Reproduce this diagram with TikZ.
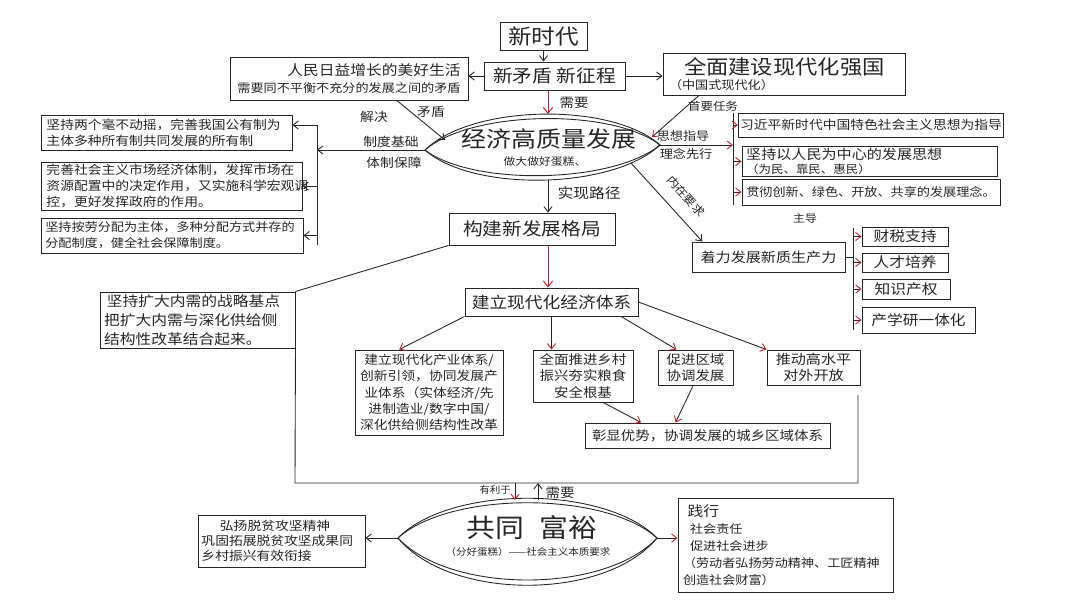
\documentclass[tikz,border=0pt]{standalone}
\usepackage{fontspec}
\setmainfont{Noto Sans CJK SC}[FakeStretch=1.12]
\usetikzlibrary{arrows.meta,calc}
\definecolor{ink}{HTML}{262626}
\definecolor{hred}{HTML}{C41E2A}
\newcommand\fz[2]{\fontsize{#1}{#2}\selectfont}
\tikzset{
  box/.style={draw=ink, line width=0.8pt, inner sep=1.5pt, align=center, text=ink},
  sz/.style 2 args={minimum width=#1*0.03cm, minimum height=#2*0.03cm},
  lbl/.style={inner sep=0pt, text=ink},
  arr/.style={draw=ink, line width=0.75pt, -{Straight Barb[length=4.5pt,width=7pt]}},
  rarr/.style={draw=ink, line width=0.75pt, -{Straight Barb[length=4.5pt,width=7pt,color=hred]}},
  rrarr/.style={draw=hred, line width=0.85pt, -{Straight Barb[length=5pt,width=8pt]}},
  lens/.style={draw=ink, line width=0.75pt},
  wire/.style={draw=ink, line width=0.75pt},
}
\begin{document}
\begin{tikzpicture}[x=0.03cm,y=-0.03cm,color=ink]
\useasboundingbox (0,0) rectangle (1080,613);
\fill[white] (0,0) rectangle (1080,613);

% ---------- top row
\node[box,sz={87}{28},font=\fz{18}{20}] (nt) at (543.5,36) {新时代};
\node[box,sz={141}{28},font=\fz{15}{17}] (nm) at (554.5,76) {新矛盾\ 新征程};
\node[box,sz={238}{43},align=right,font=\fz{10}{15}] (lt) at (349,78.5)
  {{\fz{12}{15}人民日益增长的美好生活}\\需要同不平衡不充分的发展之间的矛盾};
\node[box,sz={242}{42},align=left,text width=6.9cm,font=\fz{10}{13}] (rt) at (784,74)
  {\hspace*{0.45cm}{\fz{17}{19}全面建设现代化强国}\\（中国式现代化）};

% ---------- lens: economy
\coordinate (e1L) at (425,150);
\coordinate (e1R) at (660,145);
\coordinate (e1T) at (548,114);
\coordinate (e1B) at (548,180);
\draw[lens] (e1L) .. controls (472,104) and (612,102) .. (e1R) .. controls (612,190) and (472,192) .. (e1L);
\draw[lens] (e1L) .. controls (472,110) and (612,108) .. (e1R) .. controls (612,184) and (472,186) .. (e1L);
\node[lbl,font=\fz{19}{21}] (e1) at (549,139) {经济高质量发展};
\node[lbl,font=\fz{9}{10}] (e1s) at (545,162) {做大做好蛋糕、};

\draw[arr] (nt.south) -- (nt.south |- nm.north);
\draw[arr] (nm.west) -- (lt.east |- nm.west);
\draw[arr] (nm.east) -- (rt.west |- nm.east);
\draw[rrarr] (nm.south -| e1T) -- (e1T);
\node[lbl,font=\fz{11}{12}] (xy1) at (574,103) {需要};

\coordinate (jaE) at (445,140);
\draw[arr] ($(lt.south west)!0.7!(lt.south east)$) -- (jaE);
\node[lbl,font=\fz{10.5}{12}] (jj) at (374,117) {解决};
\node[lbl,font=\fz{10.5}{12}] (md) at (431,112) {矛盾};

\coordinate (syE) at (652,137);
\draw[rarr] ($(rt.south west)!0.15!(rt.south east)$) -- (syE);
\node[lbl,font=\fz{9.5}{11}] (sy) at (713,106) {首要任务};

% ---------- right group
\coordinate (rbT) at (733,113);
\coordinate (rbB) at (733,205);
\draw[wire] (rbT) -- (rbB);
\draw[rarr] (e1R) -- (rbT |- e1R);
\node[lbl,font=\fz{10}{11}] (sx) at (683,136) {思想指导};
\node[lbl,font=\fz{10}{11}] (lx) at (686,154) {理念先行};
\node[box,sz={258}{24},font=\fz{10.5}{12}] (ra) at (871,125) {习近平新时代中国特色社会主义思想为指导};
\node[box,sz={255}{29},align=left,text width=7.4cm,font=\fz{9.5}{11.5}] (rb) at (869.5,161.5)
  {{\fz{11.5}{12}坚持以人民为中心的发展思想}\\（为民、靠民、惠民）};
\node[box,sz={258}{26},font=\fz{10}{12}] (rc) at (871,192) {贯彻创新、绿色、开放、共享的发展理念。};
\draw[rarr] (rbT |- ra.west) -- (ra.west);
\draw[rarr] (rbT |- rb.west) -- (rb.west);
\draw[rarr] (rbT |- rc.west) -- (rc.west);
\node[lbl,font=\fz{9}{10}] (zdao) at (805,218) {主导};

% ---------- new productive forces
\node[box,sz={153}{30},font=\fz{11.5}{13}] (zl) at (768.5,257) {着力发展新质生产力};
\coordinate (nzS) at (631,163);
\draw[arr] (nzS) -- ($(zl.north west)!0.07!(zl.north east)$);
\node[lbl,font=\fz{9.5}{11},rotate=-48] (nz) at (686,196) {内在要求};
\coordinate (zbT) at (853,228);
\coordinate (zbB) at (853,330);
\draw[wire] (zbT) -- (zbB);
\draw[wire] (zl.east) -- (zbT |- zl.east);
\node[box,sz={86}{19},font=\fz{12}{13}] (q1) at (905,236.5) {财税支持};
\node[box,sz={86}{19},font=\fz{12}{13}] (q2) at (905,262.5) {人才培养};
\node[box,sz={88}{20},font=\fz{12}{13}] (q3) at (906,289) {知识产权};
\node[box,sz={113}{26},font=\fz{12}{13}] (q4) at (918.5,320) {产学研一体化};
\draw[rarr] (zbT |- q1.west) -- (q1.west);
\draw[rarr] (zbT |- q2.west) -- (q2.west);
\draw[rarr] (zbT |- q3.west) -- (q3.west);
\draw[rarr] (zbT |- q4.west) -- (q4.west);

% ---------- left group
\node[box,sz={251}{35},align=left,text width=7.2cm,font=\fz{10.5}{14}] (l1) at (166.5,132.5)
  {坚持两个毫不动摇，完善我国公有制为\\主体多种所有制共同发展的所有制};
\node[box,sz={261}{48},align=left,text width=7.5cm,font=\fz{10.5}{13.5}] (l2) at (171.5,186)
  {完善社会主义市场经济体制，发挥市场在\\资源配置中的决定作用，又实施科学宏观调\\控，更好发挥政府的作用。};
\node[box,sz={262}{35},align=left,text width=7.6cm,font=\fz{10}{13.5}] (l3) at (172,235.5)
  {坚持按劳分配为主体，多种分配方式并存的\\分配制度，健全社会保障制度。};
\coordinate (lbT) at (317,125);
\coordinate (lbB) at (317,245);
\draw[wire] (lbT) -- (lbB);
\draw[arr] (e1L) -- (lbT |- e1L);
\node[lbl,font=\fz{10.5}{12}] (zj) at (391,142) {制度基础};
\node[lbl,font=\fz{10.5}{12}] (tb) at (394,163) {体制保障};
\draw[arr] (lbT) -- (l1.east |- lbT);
\draw[arr] (lbT |- l2.east) -- (l2.east);
\draw[arr] (lbT |- l3.east) -- (l3.east);

% ---------- new development pattern
\node[box,sz={166}{32},font=\fz{15}{17}] (gj) at (532,229) {构建新发展格局};
\draw[arr] (e1B) -- (e1B |- gj.north);
\node[lbl,font=\fz{12}{13}] (sl) at (589,193) {实现路径};
\node[box,sz={173}{28},font=\fz{13.5}{15}] (jl) at (551.5,302) {建立现代化经济体系};
\draw[rrarr] (gj.south -| e1B) -- (e1B |- jl.north);
\node[box,sz={195}{56},align=left,text width=5.6cm,font=\fz{12}{16}] (kd) at (197.5,320)
  {\hspace*{0.2em}坚持扩大内需的战略基点\\把扩大内需与深化供给侧\\结构性改革结合起来。};
\draw[wire] (gj.south west) -- (kd.north east);

\node[box,sz={148}{85},font=\fz{10.5}{14}] (cy) at (429,392.5)
  {建立现代化产业体系/\\创新引领，协同发展产\\业体系（实体经济/先\\进制造业/数字中国/\\深化供给侧结构性改革};
\node[box,sz={100}{52},font=\fz{11}{14}] (xc) at (583,376) {全面推进乡村\\振兴夯实粮食\\安全根基};
\node[box,sz={75}{35},font=\fz{11}{14}] (qy) at (695.5,367.5) {促进区域\\协调发展};
\node[box,sz={93}{35},font=\fz{11.5}{14}] (gs) at (813.5,367.5) {推动高水平\\对外开放};
\node[box,sz={245}{25},font=\fz{11}{12}] (zx) at (707.5,435.5) {彰显优势，协调发展的城乡区域体系};

\draw[rarr] (jl.south west) -- ($(cy.north west)!0.3!(cy.north east)$);
\draw[rarr] (jl.south) -- (jl.south |- xc.north);
\draw[rarr] ($(jl.south west)!0.9!(jl.south east)$) -- ($(qy.north west)!0.25!(qy.north east)$);
\draw[rarr] (jl.east) -- (gs.north west);
\draw[rarr] ($(xc.south west)!0.7!(xc.south east)$) -- ($(zx.north west)!0.23!(zx.north east)$);
\draw[rarr] ($(qy.south west)!0.47!(qy.south east)$) -- ($(zx.north west)!0.37!(zx.north east)$);

% ---------- enclosing U
\coordinate (uL) at (295,483);
\coordinate (uR) at (858,483);
\coordinate (uT) at (858,395);
\draw[wire] (kd.south east) -- (uL) -- (uR) -- (uT);

% ---------- lens: common prosperity
\coordinate (cfL) at (398,538);
\coordinate (cfR) at (657,538);
\coordinate (cfT) at (515,500);
\draw[lens] (cfL) .. controls (450,485) and (605,485) .. (cfR) .. controls (605,601) and (450,601) .. (cfL);
\draw[lens] (cfL) .. controls (450,491) and (605,491) .. (cfR) .. controls (605,594) and (450,594) .. (cfL);
\node[lbl,font=\fz{22}{24}] (cf) at (532,528) {共同\hspace{0.6em}富裕};
\node[lbl,font=\fz{8}{9}] (cfs) at (528,552) {（分好蛋糕）——社会主义本质要求};

\coordinate (ua) at (515,483);
\coordinate (ub) at (538,483);
\draw[rarr] (ua) -- (ua |- cfT);
\draw[arr] (ub |- cfT) -- (ub);
\node[lbl,font=\fz{8}{9}] (yl) at (495,490) {有利于};
\node[lbl,font=\fz{11}{12}] (xy2) at (560,493) {需要};

\node[box,sz={167}{52},align=left,text width=4.8cm,font=\fz{10.5}{13}] (bl) at (281.5,541)
  {\hspace*{1.5em}弘扬脱贫攻坚精神\\巩固拓展脱贫攻坚成果同\\乡村振兴有效衔接};
\draw[arr] (cfL) -- (bl.east |- cfL);

\node[box,sz={215}{94},align=left,text width=6.15cm,font=\fz{10}{14.5}] (br) at (785.5,545)
  {\hspace*{0.4em}{\fz{12}{14.5}践行}\\\hspace*{0.6em}社会责任\\\hspace*{0.6em}促进社会进步\\（劳动者弘扬劳动精神、工匠精神\\创造社会财富）};
\draw[rarr] (cfR) -- (br.west |- cfR);
\end{tikzpicture}
\end{document}
